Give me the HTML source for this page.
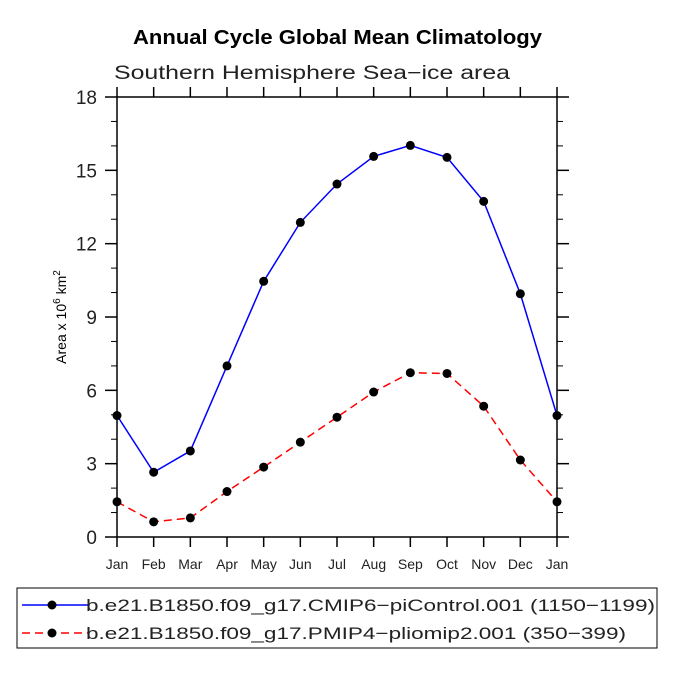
<!DOCTYPE html>
<html><head><meta charset="utf-8"><style>
body{margin:0;background:#fff;}
svg{display:block;font-family:"Liberation Sans",sans-serif;}
</style></head><body>
<svg id="chart" width="675" height="675">
<text x="133" y="44" textLength="409" lengthAdjust="spacingAndGlyphs" font-weight="bold" font-size="20">Annual Cycle Global Mean Climatology</text>
<text x="114" y="79" textLength="396" lengthAdjust="spacingAndGlyphs" font-size="19" fill="#222">Southern Hemisphere Sea−ice area</text>
<text transform="translate(66,317) rotate(-90)" text-anchor="middle" font-size="14">Area x 10<tspan dy="-6" font-size="10">6</tspan><tspan dy="6"> km</tspan><tspan dy="-6" font-size="10">2</tspan></text>
<g id="axes"></g>
<g id="series"></g>
<rect x="17" y="588" width="640" height="60" fill="none" stroke="#000"/>
<g>
<line x1="22" y1="605" x2="88" y2="605" stroke="#00f" stroke-width="1.5"/>
<circle cx="52" cy="605" r="4.5"/>
<text x="86" y="611" textLength="569" lengthAdjust="spacingAndGlyphs" font-size="17" fill="#222">b.e21.B1850.f09_g17.CMIP6−piControl.001 (1150−1199)</text>
</g>
<g>
<line x1="22" y1="633" x2="88" y2="633" stroke="#f00" stroke-width="1.5" stroke-dasharray="8,5"/>
<circle cx="52" cy="633" r="4.5"/>
<text x="86" y="639" textLength="540" lengthAdjust="spacingAndGlyphs" font-size="17" fill="#222">b.e21.B1850.f09_g17.PMIP4−pliomip2.001 (350−399)</text>
</g>
</svg>
<script>
const months = ["Jan","Feb","Mar","Apr","May","Jun","Jul","Aug","Sep","Oct","Nov","Dec","Jan"];
const piControl = [4.97,2.65,3.52,7.0,10.46,12.87,14.44,15.57,16.02,15.53,13.73,9.95,4.97];
const pliomip = [1.44,0.62,0.78,1.86,2.86,3.88,4.9,5.93,6.72,6.69,5.35,3.15,1.44];
const yTicks = [0,3,6,9,12,15,18];
const L=117,R=557,T=97,B=537,ymax=18;
const xs=i=>L+(R-L)*i/(months.length-1);
const ys=v=>B-(B-T)*v/ymax;
const NS="http://www.w3.org/2000/svg";
function mk(tag,attrs,parent){const e=document.createElementNS(NS,tag);for(const k in attrs)e.setAttribute(k,attrs[k]);parent.appendChild(e);return e;}
const ax=document.getElementById('axes');
const frame=mk('rect',{x:L,y:T,width:R-L,height:B-T,fill:'none',stroke:'#000','stroke-width':1.5},ax);


for(let v=0;v<=ymax;v++){
  const major=v%3===0, len=major?12:6, y=ys(v);
  const t1=mk('line',{x1:L-len,y1:y,x2:L,y2:y,stroke:'#000','stroke-width':major?1.5:1},ax);
  
  
  const t2=mk('line',{x1:R,y1:y,x2:R+len,y2:y,stroke:'#000','stroke-width':major?1.5:1},ax);
  
  
}
yTicks.forEach(v=>{
  const t=mk('text',{x:L-20,y:ys(v)+7,'text-anchor':'end','font-size':19,fill:'#222'},ax);
  t.textContent=v;
  
  
});
months.forEach((m,i)=>{
  const x=xs(i);
  const a=mk('line',{x1:x,y1:B,x2:x,y2:B+10,stroke:'#000','stroke-width':1.5},ax);
  
  
  const b=mk('line',{x1:x,y1:T-10,x2:x,y2:T,stroke:'#000','stroke-width':1.5},ax);
  
  
  const t=mk('text',{x:x,y:B+32,'text-anchor':'middle','font-size':14,fill:'#222'},ax);
  t.textContent=m;
  
  
});
const sg=document.getElementById('series');
function draw(vals,color,dash,name){
  const p=mk('polyline',{points:vals.map((v,i)=>xs(i)+','+ys(v)).join(' '),fill:'none',stroke:color,'stroke-width':1.5,'stroke-dasharray':dash},sg);
  
  
  vals.forEach((v,i)=>{
    const c=mk('circle',{cx:xs(i),cy:ys(v),r:4.5,fill:'#000'},sg);
    
    
  });
}
draw(piControl,'#00f','none','picontrol');
draw(pliomip,'#f00','8,5','pliomip');
</script>
</body></html>
